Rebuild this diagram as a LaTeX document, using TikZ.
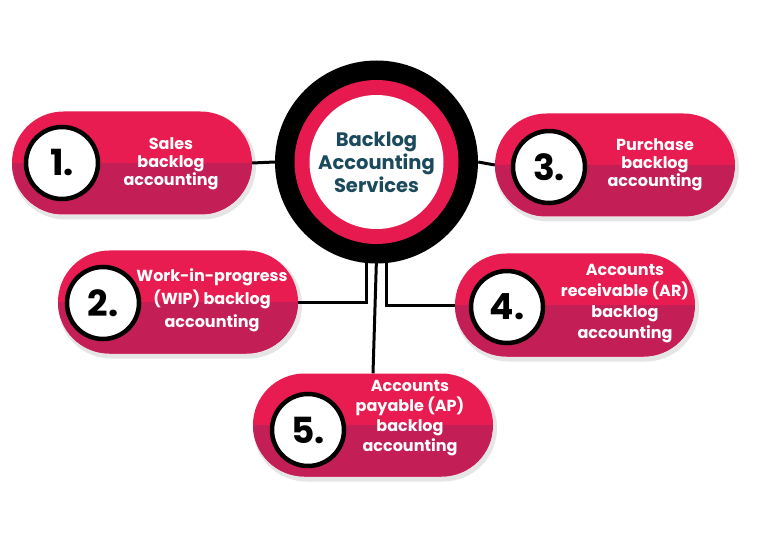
\documentclass[tikz,border=0pt]{standalone}
\usepackage{fontspec}
\setmainfont{Poppins}
\usetikzlibrary{shapes.misc,calc}
\definecolor{pinkT}{RGB}{232,28,80}
\definecolor{pinkB}{RGB}{196,30,86}
\definecolor{ringpink}{RGB}{230,26,78}
\definecolor{teal}{RGB}{27,74,92}
\tikzset{
  pill/.style={rounded rectangle, minimum width=240pt, minimum height=103pt, inner sep=0pt,
    fill=pinkT,
    path picture={\fill[pinkB] (path picture bounding box.west) rectangle (path picture bounding box.south east);}},
  pillshadow/.style={rounded rectangle, minimum width=244pt, minimum height=107pt, fill=black!10, inner sep=0pt},
  numc/.style={circle, fill=white, draw=black, line width=4.5pt, minimum size=72pt, inner sep=0pt,
    font=\fontsize{36}{36}\selectfont\bfseries},
  ptext/.style={align=center, text=white, font=\fontsize{16}{18}\selectfont\bfseries, inner sep=0pt},
  ptextw/.style={ptext, font=\fontsize{16}{21}\selectfont\bfseries},
  conn/.style={draw=black, line width=3pt}
}
\begin{document}
\begin{tikzpicture}[x=1pt,y=-1pt]
\useasboundingbox (0,0) rectangle (768,553);
\fill[white] (0,0) rectangle (768,553);
% shadows
\node[pillshadow] (s1) at (134,166) {};
\node[pillshadow] (s2) at (180,305) {};
\node[pillshadow] (s3) at (617,168) {};
\node[pillshadow] (s4) at (577,308) {};
\node[pillshadow] (s5) at (375,428) {};
% pills
\node[pill] (p1) at (132,163) {};
\node[pill] (p2) at (178,302) {};
\node[pill] (p3) at (615,165) {};
\node[pill] (p4) at (575,305) {};
\node[pill] (p5) at (373,425) {};
% centre
\node[circle, fill=black, minimum size=203pt, inner sep=0pt] (c) at (376.5,162) {};
\node[circle, fill=ringpink, minimum size=164pt, inner sep=0pt] (cr) at (c) {};
\node[circle, fill=white, minimum size=134pt, inner sep=0pt, align=center, text=teal,
  font=\fontsize{19.5}{23}\selectfont\bfseries] (ct) at (c) {Backlog\\Accounting\\Services};
% connectors
\draw[conn] (p1.east) -- (c.west);
\draw[conn] (c.east) -- (p3.west);
\draw[conn] ([xshift=-10pt,yshift=6pt]c.south) |- (p2.east);
\draw[conn] ([xshift=10pt,yshift=6pt]c.south) |- (p4.west);
\draw[conn] ([yshift=6pt]c.south) -- (p5.north);
% number circles
\node[numc] (n1) at (62,163) {1.};
\node[numc] (n2) at (103,303) {2.};
\node[numc] (n3) at (549,167) {3.};
\node[numc] (n4) at (507,307) {4.};
\node[numc] (n5) at (308,430) {5.};
% texts
\node[ptext] (t1) at (171,164) {Sales\\backlog\\accounting};
\node[ptextw, font=\fontsize{16}{23}\selectfont\bfseries] (t2) at (212,300) {Work-in-progress\\(WIP) backlog\\accounting};
\node[ptext] (t3) at (655,165) {Purchase\\backlog\\accounting};
\node[ptextw] (t4) at (625,304) {Accounts\\receivable (AR)\\backlog\\accounting};
\node[ptextw, font=\fontsize{16}{20}\selectfont\bfseries] (t5) at (410,418) {Accounts\\payable (AP)\\backlog\\accounting};
\end{tikzpicture}
\end{document}
